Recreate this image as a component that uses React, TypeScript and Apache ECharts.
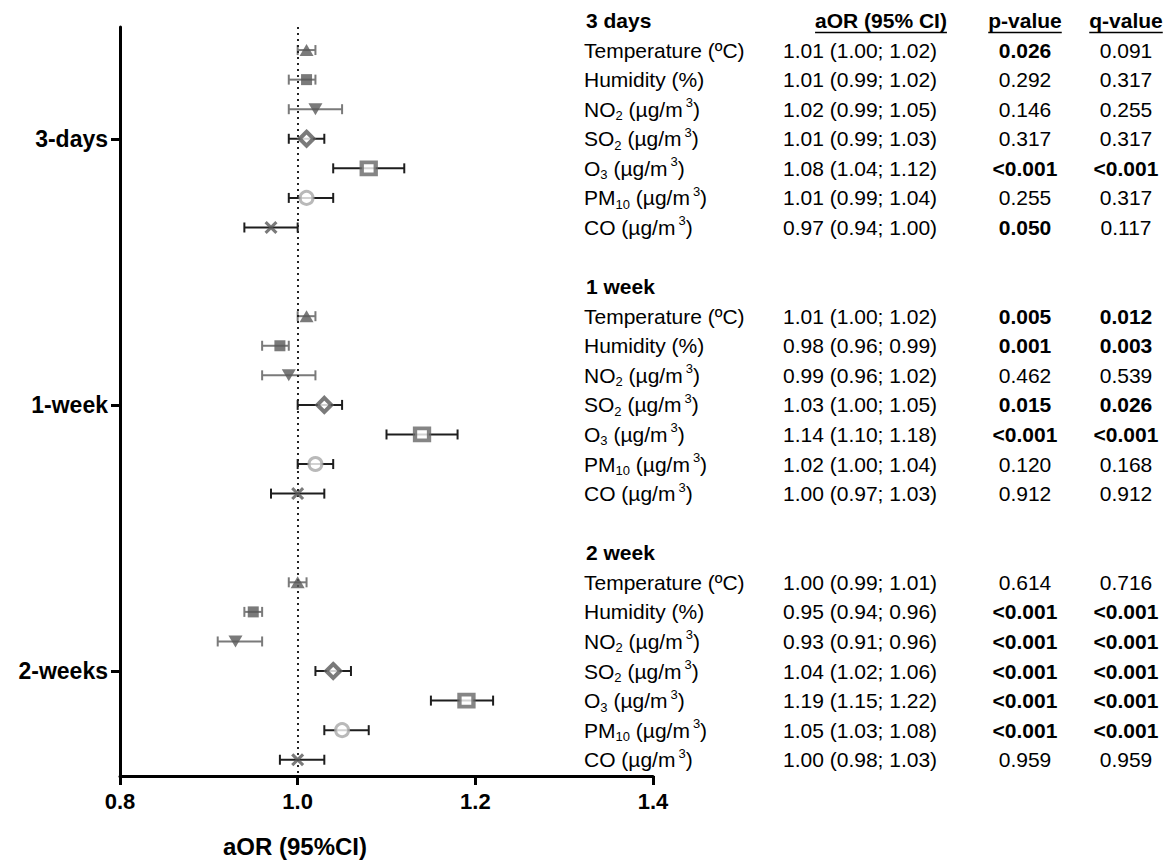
import React, { useEffect, useRef } from "react";
import * as echarts from "echarts";

// ---------- DATA ----------
const groupTitles = ["3 days", "1 week", "2 week"];
const axisGroupLabels = ["3-days", "1-week", "2-weeks"];
const variableLabels = [
  "{n|Temperature (ºC)}",
  "{n|Humidity (%)}",
  "{n|NO}{sub|2}{n| (µg/m}{sup|3}{n|)}",
  "{n|SO}{sub|2}{n| (µg/m}{sup|3}{n|)}",
  "{n|O}{sub|3}{n| (µg/m}{sup|3}{n|)}",
  "{n|PM}{sub|10}{n| (µg/m}{sup|3}{n|)}",
  "{n|CO (µg/m}{sup|3}{n|)}",
];
const variableNames = ["Temperature", "Humidity", "NO2", "SO2", "O3", "PM10", "CO"];

const aor3d = [1.01, 1.01, 1.02, 1.01, 1.08, 1.01, 0.97];
const lo3d = [1.0, 0.99, 0.99, 0.99, 1.04, 0.99, 0.94];
const hi3d = [1.02, 1.02, 1.05, 1.03, 1.12, 1.04, 1.0];
const p3d = ["0.026", "0.292", "0.146", "0.317", "<0.001", "0.255", "0.050"];
const q3d = ["0.091", "0.317", "0.255", "0.317", "<0.001", "0.317", "0.117"];

const aor1w = [1.01, 0.98, 0.99, 1.03, 1.14, 1.02, 1.0];
const lo1w = [1.0, 0.96, 0.96, 1.0, 1.1, 1.0, 0.97];
const hi1w = [1.02, 0.99, 1.02, 1.05, 1.18, 1.04, 1.03];
const p1w = ["0.005", "0.001", "0.462", "0.015", "<0.001", "0.120", "0.912"];
const q1w = ["0.012", "0.003", "0.539", "0.026", "<0.001", "0.168", "0.912"];

const aor2w = [1.0, 0.95, 0.93, 1.04, 1.19, 1.05, 1.0];
const lo2w = [0.99, 0.94, 0.91, 1.02, 1.15, 1.03, 0.98];
const hi2w = [1.01, 0.96, 0.96, 1.06, 1.22, 1.08, 1.03];
const p2w = ["0.614", "<0.001", "<0.001", "<0.001", "<0.001", "<0.001", "0.959"];
const q2w = ["0.716", "<0.001", "<0.001", "<0.001", "<0.001", "<0.001", "0.959"];

const xTicks = [0.8, 1.0, 1.2, 1.4];

// ---------- STRUCTURE ----------
const groups = [
  { aor: aor3d, lo: lo3d, hi: hi3d, p: p3d, q: q3d },
  { aor: aor1w, lo: lo1w, hi: hi1w, p: p1w, q: q1w },
  { aor: aor2w, lo: lo2w, hi: hi2w, p: p2w, q: q2w },
];
const GROUP_STEP = 9;
const rowPos = (g: number, i: number) => g * GROUP_STEP + i;

// ---------- STYLE ----------
const FONT = '"Liberation Sans", Arial, Helvetica, sans-serif';
const TABLE_FS = 21;
const LABEL_X = 584;
const AOR_X = 783;
const P_X = 1025;
const Q_X = 1126;
const AOR_HEAD_X = 881;
const BAR_COLORS = ["#7a7a7a", "#7a7a7a", "#7a7a7a", "#1e1e1e", "#1e1e1e", "#1e1e1e", "#1e1e1e"];
const DARK = "#595959";
const MARKERS: any[] = [
  { symbol: "triangle", symbolSize: [14, 12], itemStyle: { color: DARK } },
  { symbol: "rect", symbolSize: [11, 11], itemStyle: { color: DARK } },
  { symbol: "triangle", symbolSize: [14, 12], symbolRotate: 180, itemStyle: { color: DARK } },
  { symbol: "diamond", symbolSize: [14, 14], itemStyle: { color: "#fff", borderColor: DARK, borderWidth: 4 } },
  { symbol: "rect", symbolSize: [14, 12], itemStyle: { color: "#fff", borderColor: "#666", borderWidth: 4 } },
  { symbol: "circle", symbolSize: 13, itemStyle: { color: "#fff", borderColor: "#a8a8a8", borderWidth: 3 } },
  {
    symbol: "path://M2,0 L6,4 L10,0 L12,2 L8,6 L12,10 L10,12 L6,8 L2,12 L0,10 L4,6 L0,2 Z",
    symbolSize: [13, 13],
    itemStyle: { color: DARK },
  },
];

const isSig = (s: string) => s.startsWith("<") || parseFloat(s) <= 0.05;
const fmtAor = (o: number, l: number, h: number) =>
  `${o.toFixed(2)} (${l.toFixed(2)}; ${h.toFixed(2)})`;

function measure(text: string, font: string) {
  const c = document.createElement("canvas").getContext("2d");
  if (!c) return text.length * 10;
  c.font = font;
  return c.measureText(text).width;
}

const rich = {
  n: { fontSize: TABLE_FS, fontFamily: FONT, lineHeight: 26, fill: "#000", color: "#000" },
  sub: { fontSize: 13, fontFamily: FONT, lineHeight: 13, verticalAlign: "bottom", fill: "#000", color: "#000" },
  sup: { fontSize: 13, fontFamily: FONT, lineHeight: 13, verticalAlign: "top", padding: [0, 0, 0, 3], fill: "#000", color: "#000" },
};

// table rows
type TRow = { kind: "head" | "line"; g: number; i: number; row: number };
const tableRows: TRow[] = [];
groups.forEach((_, g) => {
  tableRows.push({ kind: "head", g, i: -1, row: rowPos(g, -1) });
  variableNames.forEach((_, i) => tableRows.push({ kind: "line", g, i, row: rowPos(g, i) }));
});

function textEl(text: string, x: number, y: number, align: string, bold: boolean, extra: any = {}) {
  return {
    type: "text",
    x,
    y,
    style: {
      text,
      fill: "#000",
      fontSize: TABLE_FS,
      fontFamily: FONT,
      fontWeight: bold ? "bold" : "normal",
      align,
      verticalAlign: "middle",
      ...extra,
    },
  };
}

export default function App() {
  const ref = useRef<HTMLDivElement>(null);
  useEffect(() => {
    document.body.style.margin = "0";
    if (!ref.current) return;
    const chart = echarts.init(ref.current, null, { renderer: "svg" });

    const errData: any[] = [];
    groups.forEach((gr, g) =>
      gr.aor.forEach((_, i) => errData.push([gr.lo[i], gr.hi[i], rowPos(g, i), i]))
    );

    const markerSeries = variableNames.map((name, i) => ({
      type: "scatter",
      name,
      data: groups.map((gr, g) => [gr.aor[i], rowPos(g, i)]),
      ...MARKERS[i],
      z: 5,
      silent: true,
    }));

    const headFont = `bold ${TABLE_FS}px ${FONT}`;

    const option: any = {
      animation: false,
      grid: { left: 120, right: 514, top: 27, bottom: 92, containLabel: false },
      xAxis: {
        type: "value",
        min: 0.8,
        max: 1.4,
        interval: 0.2,
        axisLine: { show: true, onZero: false, lineStyle: { color: "#000", width: 3 } },
        axisTick: { show: true, length: 9, lineStyle: { color: "#000", width: 3 } },
        axisLabel: {
          margin: 14,
          color: "#000",
          fontSize: 22,
          fontWeight: "bold",
          fontFamily: FONT,
          formatter: (v: number) => (xTicks.some((t) => Math.abs(t - v) < 1e-6) ? v.toFixed(1) : ""),
        },
        splitLine: { show: false },
      },
      yAxis: {
        type: "value",
        inverse: true,
        min: -0.78,
        max: 24.55,
        axisLine: { show: true, onZero: false, lineStyle: { color: "#000", width: 3 } },
        axisTick: {
          show: true,
          length: 9,
          lineStyle: { color: "#000", width: 3 },
          customValues: groups.map((_, g) => rowPos(g, 3)),
        },
        axisLabel: {
          margin: 12,
          color: "#000",
          fontSize: 23,
          fontWeight: "bold",
          fontFamily: FONT,
          customValues: groups.map((_, g) => rowPos(g, 3)),
          formatter: (v: number) => {
            const g = groups.findIndex((_, k) => rowPos(k, 3) === v);
            return g >= 0 ? axisGroupLabels[g] : "";
          },
        },
        splitLine: { show: false },
      },
      graphic: [
        {
          type: "text",
          x: 295,
          y: 846,
          style: {
            text: "aOR (95%CI)",
            fill: "#000",
            fontSize: 24,
            fontWeight: "bold",
            fontFamily: FONT,
            align: "center",
            verticalAlign: "middle",
          },
        },
      ],
      series: [
        {
          type: "custom",
          name: "ci",
          data: errData,
          encode: { x: [0, 1], y: 2 },
          clip: false,
          silent: true,
          z: 3,
          renderItem: (params: any, api: any) => {
            const row = api.value(2);
            const a = api.coord([api.value(0), row]);
            const b = api.coord([api.value(1), row]);
            const style = { stroke: BAR_COLORS[api.value(3)], lineWidth: 2 };
            const cap = 5;
            return {
              type: "group",
              children: [
                { type: "line", shape: { x1: a[0], y1: a[1], x2: b[0], y2: b[1] }, style },
                { type: "line", shape: { x1: a[0], y1: a[1] - cap, x2: a[0], y2: a[1] + cap }, style },
                { type: "line", shape: { x1: b[0], y1: b[1] - cap, x2: b[0], y2: b[1] + cap }, style },
              ],
            };
          },
          markLine: {
            silent: true,
            symbol: ["none", "none"],
            label: { show: false },
            lineStyle: { color: "#222", width: 2, type: [2, 4] },
            data: [{ xAxis: 1 }],
          },
        },
        ...markerSeries,
        {
          type: "custom",
          name: "table",
          data: tableRows.map((r) => [1, r.row]),
          encode: { x: 0, y: 1 },
          clip: false,
          silent: true,
          renderItem: (params: any, api: any) => {
            const r = tableRows[params.dataIndex];
            const y = api.coord([1, r.row])[1];
            const children: any[] = [];
            if (r.kind === "head") {
              children.push(textEl(groupTitles[r.g], LABEL_X + 2, y, "left", true));
              if (r.g === 0) {
                const heads: [string, number][] = [
                  ["aOR (95% CI)", AOR_HEAD_X],
                  ["p-value", P_X],
                  ["q-value", Q_X],
                ];
                heads.forEach(([t, cx]) => {
                  children.push(textEl(t, cx, y, "center", true));
                  const w = measure(t, headFont);
                  children.push({
                    type: "line",
                    shape: { x1: cx - w / 2, y1: y + 12, x2: cx + w / 2, y2: y + 12 },
                    style: { stroke: "#000", lineWidth: 1.5 },
                  });
                });
              }
            } else {
              const gr = groups[r.g];
              children.push({
                type: "text",
                x: LABEL_X,
                y,
                style: {
                  text: variableLabels[r.i],
                  rich,
                  fill: "#000",
                  fontSize: TABLE_FS,
                  fontFamily: FONT,
                  align: "left",
                  verticalAlign: "middle",
                },
              });
              children.push(textEl(fmtAor(gr.aor[r.i], gr.lo[r.i], gr.hi[r.i]), AOR_X, y, "left", false));
              children.push(textEl(gr.p[r.i], P_X, y, "center", isSig(gr.p[r.i])));
              children.push(textEl(gr.q[r.i], Q_X, y, "center", isSig(gr.q[r.i])));
            }
            return { type: "group", children };
          },
        },
      ],
    };
    chart.setOption(option);
    return () => chart.dispose();
  }, []);
  return <div ref={ref} style={{ width: 1167, height: 868 }} />;
}
